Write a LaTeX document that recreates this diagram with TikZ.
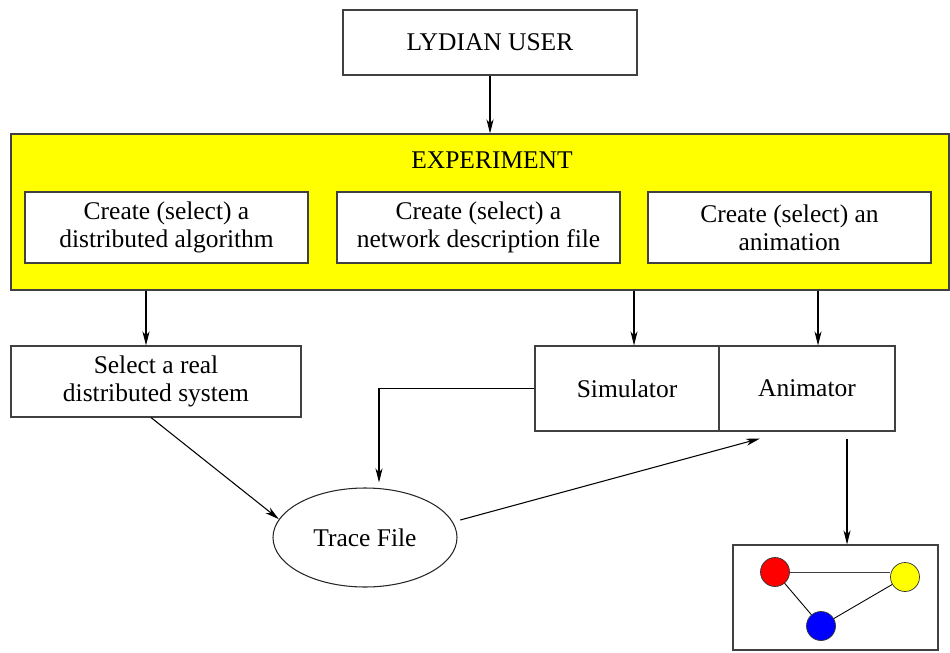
\documentclass[tikz,border=0pt]{standalone}
\usepackage{fontspec}
\setmainfont{Liberation Serif}
\usetikzlibrary{shapes.geometric,arrows.meta}
\definecolor{expyellow}{rgb}{1,1,0}
\definecolor{dotyellow}{rgb}{1,1,0}

\begin{document}
\begin{tikzpicture}[
    font=\fontsize{14.5}{15.8}\selectfont,
    line width=0.6pt,
    box/.style={draw=black!75, fill=white, align=center, inner sep=0pt},
    arr/.style={-{Stealth[length=2.8mm,width=1.4mm,inset=0.8mm]}},
    dot/.style={circle, draw=black!80, line width=0.4pt, minimum size=0.58cm, inner sep=0pt}
]
    \useasboundingbox (0,0) rectangle (19,13.04);

    % User
    \node[box, minimum width=5.88cm, minimum height=1.3cm] (user) at (9.8,12.19) {LYDIAN USER};

    % Experiment container
    \node[draw=black!75, fill=expyellow, minimum width=18.76cm, minimum height=3.12cm] (exp) at (9.6,8.8) {};
    \node (explabel) at (9.84,9.84) {EXPERIMENT};

    % Experiment steps
    \node[box, minimum width=5.66cm, minimum height=1.42cm] (algo) at (3.33,8.49) {Create (select) a\\distributed algorithm};
    \node[box, minimum width=5.66cm, minimum height=1.42cm] (net) at (9.57,8.49) {Create (select) a\\network description file};
    \node[box, minimum width=5.66cm, minimum height=1.42cm] (anifile) at (15.79,8.49) {Create (select) an\\animation};

    % Real system
    \node[box, minimum width=5.8cm, minimum height=1.42cm] (real) at (3.12,5.41) {Select a real\\distributed system};

    % Simulator / Animator
    \node[box, minimum width=3.68cm, minimum height=1.7cm] (sim) at (12.54,5.27) {Simulator};
    \node[box, minimum width=3.52cm, minimum height=1.7cm] (anim) at (16.14,5.27) {Animator};

    % Trace file
    \node[ellipse, draw=black!85, minimum width=3.68cm, minimum height=1.98cm, inner sep=0pt] (trace) at (7.3,2.29) {Trace File};

    % Animation output
    \node[box, minimum width=4.1cm, minimum height=2.1cm] (screen) at (16.71,1.09) {};
    \node[dot, fill=red] (red) at (15.5,1.6) {};
    \node[dot, fill=dotyellow] (yel) at (18.1,1.5) {};
    \node[dot, fill=blue] (blu) at (16.42,0.52) {};
    \draw[black!75, line width=0.5pt] (red.east) -- (red.east -| yel.west);
    \draw[line width=0.5pt] (red) -- (blu);
    \draw[line width=0.5pt] (blu) -- (yel);

    % Arrows
    \draw[arr] (user.south) -- (user.south |- exp.north);
    \draw[arr] ([xshift=-2mm]real.north |- exp.south) -- ([xshift=-2mm]real.north);
    \draw[arr] ([xshift=1.4mm]sim.north |- exp.south) -- ([xshift=1.4mm]sim.north);
    \draw[arr] ([xshift=2.2mm]anim.north |- exp.south) -- ([xshift=2.2mm]anim.north);
    \draw[arr] (sim.west) -| ([xshift=2.8mm,yshift=1mm]trace.north);
    \draw[arr] ([xshift=-1mm]real.south) -- (trace.168);
    \draw[arr, shorten <=1.5mm] (trace.10) -- ([shift={(-0.94,-0.14)}]anim.south);
    \draw[arr, shorten <=1.4mm] ([xshift=8mm]anim.south) -- ([xshift=8mm]anim.south |- screen.north);
\end{tikzpicture}
\end{document}
